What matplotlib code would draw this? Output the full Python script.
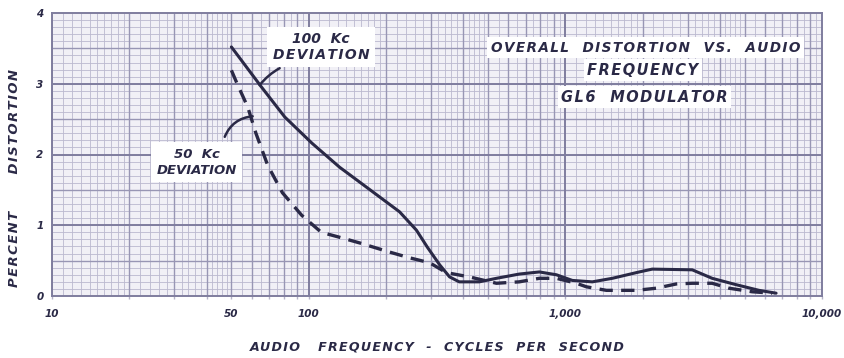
import numpy as np
import matplotlib
matplotlib.use("Agg")
import matplotlib.pyplot as plt
from matplotlib.ticker import FixedLocator, NullFormatter

# ---- data ----
freq_100kc = [50, 65.6, 80.7, 103, 132, 158, 189, 226, 263, 290, 324, 354, 386, 462, 539, 661,
              792, 923, 1065, 1274, 1524, 1941, 2181, 3122, 3733, 4627, 5683, 6623]
dist_100kc = [3.52, 2.95, 2.53, 2.16, 1.82, 1.61, 1.40, 1.19, 0.93, 0.69, 0.44, 0.27, 0.20, 0.20,
              0.25, 0.31, 0.34, 0.30, 0.22, 0.20, 0.25, 0.34, 0.38, 0.37, 0.25, 0.16, 0.08, 0.04]

freq_50kc = [50, 52.5, 57.9, 62.3, 69.2, 79, 94, 112, 132, 158, 207, 247, 296, 344, 423, 539, 661,
             792, 923, 1104, 1208, 1445, 1889, 2259, 2704, 3122, 3733, 4345, 5343, 6385]
dist_50kc = [3.19, 3.01, 2.67, 2.30, 1.85, 1.46, 1.14, 0.90, 0.83, 0.75, 0.62, 0.54, 0.47, 0.33,
             0.27, 0.18, 0.20, 0.25, 0.25, 0.18, 0.13, 0.08, 0.08, 0.11, 0.17, 0.18, 0.18, 0.11,
             0.06, 0.04]

x_ticks = [10, 50, 100, 1000, 10000]
x_ticklabels = ["10", "50", "100", "1,000", "10,000"]
y_ticks = [0, 1, 2, 3, 4]
y_ticklabels = ["0", "1", "2", "3", "4"]

title_lines = ["OVERALL  DISTORTION  VS.  AUDIO", "FREQUENCY", "GL6  MODULATOR"]
label_100 = ["100  Kc", "DEVIATION"]
label_50 = "50  Kc\nDEVIATION"
x_title = "AUDIO   FREQUENCY  -  CYCLES  PER  SECOND"
y_title = "PERCENT      DISTORTION"


def spaced(s, sep="\u200a"):
    """hand-lettering look: a hair space between letters"""
    return sep.join(s)


# ---- style ----
ink = "#2a2946"
major_c = "#7f7d9e"
mid_c = "#9896b4"
fine_c = "#bbb9cf"
font = dict(family="DejaVu Sans", weight="bold", style="italic", color=ink)

fig = plt.figure(figsize=(8.45, 3.58), dpi=100)
fig.patch.set_facecolor("white")
ax = fig.add_axes([52/845, 1-296/358, 770/845, 283/358])
ax.set_facecolor("#f1f0f6")
ax.set_xscale("log")
ax.set_xlim(10, 10000)
ax.set_ylim(0, 4)

# graph-paper grid
fine = list(np.arange(1.1, 2.0, 0.1)) + list(np.arange(2.2, 5.0, 0.2)) + list(np.arange(5.5, 10.0, 0.5))
for dec in [10, 100, 1000]:
    for m in fine:
        ax.axvline(dec * m, color=fine_c, lw=0.6, zorder=0)
    for m in range(2, 10):
        ax.axvline(dec * m, color=mid_c, lw=1.0, zorder=0.5)
    ax.axvline(dec, color=major_c, lw=1.4, zorder=0.6)
for yv in np.arange(0.1, 4.0, 0.1):
    ax.axhline(yv, color=fine_c, lw=0.6, zorder=0)
for yv in np.arange(0.5, 4.0, 1.0):
    ax.axhline(yv, color=mid_c, lw=1.0, zorder=0.5)
for yv in range(1, 4):
    ax.axhline(yv, color=major_c, lw=1.4, zorder=0.6)

for s in ax.spines.values():
    s.set_color(major_c)
    s.set_linewidth(1.4)

# curves
ax.plot(freq_100kc, dist_100kc, color=ink, lw=2.2, solid_capstyle="round",
        solid_joinstyle="round", zorder=3)
ax.plot(freq_50kc, dist_50kc, color=ink, lw=2.4, dashes=(4, 2.5), zorder=3)

# ticks
ax.xaxis.set_major_locator(FixedLocator(x_ticks))
ax.set_xticklabels(x_ticklabels, fontsize=7.5, **font)
minor = [d * m for d in [10, 100, 1000] for m in range(2, 10) if d * m != 50]
ax.xaxis.set_minor_locator(FixedLocator(minor))
ax.xaxis.set_minor_formatter(NullFormatter())
ax.tick_params(axis="x", which="both", length=2.5, width=1.0, color="#b5b3c8", pad=7)
ax.set_yticks(y_ticks)
ax.set_yticklabels(y_ticklabels, fontsize=7.5, **font)
ax.tick_params(axis="y", length=0, pad=6)

ax.set_xlabel(spaced(x_title), fontsize=9.1, labelpad=15, **font)
ax.set_ylabel(spaced(y_title), fontsize=9.5, **font)
ax.yaxis.set_label_coords(-0.04, 0.417)

# title block
box = dict(facecolor="white", edgecolor="none", pad=2.5)
ax.text(2050, 3.51, spaced(title_lines[0]), ha="center", va="center", fontsize=9.8, bbox=box, zorder=4, **font)
ax.text(2000, 3.19, spaced(title_lines[1]), ha="center", va="center", fontsize=10.5, bbox=box, zorder=4, **font)
ax.text(2030, 2.81, spaced(title_lines[2]), ha="center", va="center", fontsize=10.5, bbox=box, zorder=4, **font)

# curve labels
box2 = dict(facecolor="white", edgecolor="none", pad=4)
ax.text(112, 3.52, label_100[0] + "\n" + spaced(label_100[1]), ha="center", va="center",
        fontsize=10, linespacing=1.15, bbox=box2, zorder=4, **font)
ax.text(36.6, 1.89, label_50, ha="center", va="center", fontsize=9.5, linespacing=1.25,
        bbox=box2, zorder=4, **font)

ax.annotate("", xy=(64.4, 2.98), xytext=(77.1, 3.22),
            arrowprops=dict(arrowstyle="-", color=ink, lw=1.8,
                            connectionstyle="arc3,rad=0.1", shrinkA=0, shrinkB=0), zorder=4)
ax.annotate("", xy=(60.5, 2.54), xytext=(47.1, 2.25),
            arrowprops=dict(arrowstyle="-", color=ink, lw=1.8,
                            connectionstyle="arc3,rad=-0.3", shrinkA=0, shrinkB=0), zorder=4)

fig.savefig("out.png", dpi=100, facecolor="white")
